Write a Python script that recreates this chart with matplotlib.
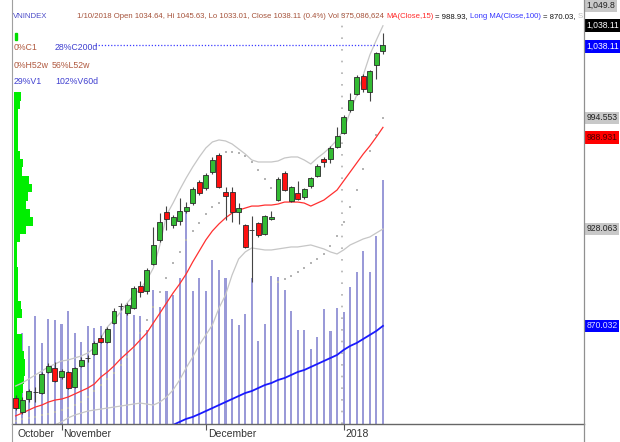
import matplotlib
matplotlib.use("Agg")
import matplotlib.pyplot as plt
import matplotlib.transforms as mtransforms
from matplotlib.patches import Rectangle
from matplotlib.lines import Line2D
import numpy as np

# ---- data (VNINDEX daily, 23 Oct 2017 .. 10 Jan 2018) ----
ticker = "VNINDEX"
last_date = "1/10/2018"
last_change = "0.4%"

open_ = [826.8, 818.4, 826.2, 830.2, 829.8, 842.4, 844.8, 839.4, 842.4, 833.4,
         846.0, 850.6, 853.2, 862.8, 860.4, 871.7, 881.7, 877.7, 880.7, 893.9,
         890.9, 907.1, 921.5, 938.2, 930.5, 932.9, 938.9, 943.6, 956.2, 952.6,
         962.2, 972.4, 950.2, 950.2, 938.2, 930.5, 927.3, 931.6, 925.1, 934.0,
         945.4, 961.6, 944.8, 949.6, 947.2, 953.8, 959.8, 970.0, 970.0, 977.2,
         985.6, 999.3, 1008.9, 1019.7, 1010.1, 1026.3, 1034.64]
high = [828.6, 827.4, 832.2, 833.4, 842.4, 847.8, 848.4, 844.2, 843.0, 845.4,
        851.4, 852.6, 861.0, 864.6, 869.3, 880.7, 883.7, 883.7, 893.9, 896.9,
        904.7, 929.2, 937.6, 941.8, 936.4, 946.6, 944.2, 953.2, 957.4, 961.6,
        971.2, 973.6, 953.2, 953.2, 943.6, 931.0, 935.8, 932.2, 936.4, 938.8,
        959.2, 962.8, 953.8, 956.8, 952.6, 959.2, 967.0, 971.2, 977.8, 989.2,
        996.4, 1009.5, 1020.3, 1020.9, 1023.3, 1034.1, 1045.63]
low = [819.6, 817.2, 824.4, 824.4, 829.2, 841.8, 836.4, 838.2, 832.2, 832.8,
       845.4, 848.4, 852.6, 859.8, 859.8, 871.1, 879.5, 876.5, 880.1, 887.3,
       889.1, 906.5, 920.3, 927.5, 928.7, 930.5, 937.6, 942.4, 948.4, 951.4,
       961.0, 952.6, 933.5, 932.2, 931.0, 916.7, 896.3, 923.3, 924.5, 933.5,
       944.8, 950.8, 944.2, 945.4, 946.0, 952.6, 959.2, 965.2, 967.6, 976.6,
       985.0, 998.1, 1008.3, 1010.1, 1004.7, 1017.9, 1033.01]
close = [820.8, 825.6, 831.0, 830.6, 841.2, 846.0, 837.0, 843.0, 832.8, 844.8,
         849.6, 851.0, 859.8, 860.4, 868.2, 878.9, 882.1, 882.5, 892.7, 890.3,
         903.5, 918.5, 932.2, 934.0, 935.2, 938.9, 941.2, 952.0, 949.6, 960.4,
         969.4, 953.2, 947.8, 938.2, 940.6, 917.3, 927.7, 924.5, 935.8, 935.2,
         958.0, 951.4, 953.2, 946.0, 952.0, 958.6, 965.8, 968.2, 976.6, 983.8,
         995.2, 1005.3, 1019.1, 1011.9, 1022.7, 1033.5, 1038.11]
# volume, millions of shares
volume = [129, 140, 120, 166, 124, 161, 160, 154, 174, 140,
          126, 151, 148, 151, 124, 171, 180, 172, 168, 166,
          144, 206, 180, 204, 198, 224, 329, 204, 224, 204,
          252, 237, 224, 161, 152, 169, 224, 128, 154, 227,
          226, 206, 174, 144, 144, 115, 134, 177, 143, 178,
          172, 211, 234, 266, 234, 289, 375.086624]

ma15 = [816.1, 817.8, 819.6, 821.4, 822.6, 824.4, 825.6, 826.2, 827.4, 829.2,
        831.0, 832.8, 835.2, 839.4, 842.4, 846.0, 850.2, 853.8, 857.4, 861.6,
        865.8, 871.8, 877.7, 883.7, 889.7, 895.1, 901.1, 908.3, 914.9, 921.5,
        926.9, 931.1, 934.7, 937.6, 939.4, 940.6, 941.8, 941.8, 942.4, 942.4,
        943.0, 944.2, 944.2, 944.2, 943.6, 941.8, 943.6, 945.4, 948.4, 951.4,
        956.8, 962.2, 967.6, 973.0, 977.8, 983.2, 988.931]
nan = float("nan")
ma100 = [nan] * 24 + [
    810.7, 812.5, 814.3, 815.5, 817.2, 819.0, 820.8, 822.6, 824.4, 826.2,
    828.0, 829.8, 831.0, 832.8, 834.6, 835.8, 837.6, 838.8, 840.6, 842.4,
    843.6, 845.4, 847.2, 849.0, 850.8, 852.6, 855.6, 858.0, 859.8, 862.2,
    864.6, 867.0, 870.032]
bb_upper = [834.0, 835.8, 838.2, 840.6, 843.0, 845.4, 847.2, 849.0, 849.6, 850.8,
            852.0, 853.8, 856.8, 862.8, 869.4, 873.6, 878.3, 883.7, 888.5, 892.1,
            897.5, 904.7, 918.5, 936.4, 943.6, 951.4, 958.6, 965.2, 971.2, 976.6,
            980.2, 981.4, 980.8, 979.0, 976.0, 973.0, 969.4, 968.2, 968.2, 968.2,
            968.8, 970.6, 971.2, 971.2, 969.4, 967.0, 970.6, 973.6, 977.2, 981.4,
            987.4, 998.1, 1008.3, 1020.3, 1032.3, 1041.3, 1049.8]
bb_lower = [798.7, 801.1, 803.5, 805.9, 807.7, 809.5, 810.7, 812.5, 814.9, 816.6,
            817.8, 819.0, 819.6, 820.2, 820.8, 821.4, 822.0, 822.6, 823.2, 823.8,
            823.2, 822.6, 824.4, 827.4, 831.6, 837.6, 844.8, 851.4, 858.6, 864.6,
            870.6, 880.7, 888.5, 900.5, 910.1, 914.3, 916.7, 916.1, 915.5, 915.5,
            916.1, 916.7, 917.3, 917.3, 917.9, 918.5, 917.3, 916.1, 914.3, 913.1,
            915.5, 918.5, 920.3, 922.1, 923.3, 925.7, 928.063]
sar = [813.1, 814.3, 814.9, 815.5, 816.6, 817.2, 818.4, 819.6, 820.8, 822.6,
       824.4, 827.4, 831.0, 834.6, 838.2, 841.8, 846.6, 851.4, 856.8, 865.8,
       873.6, 881.3, 890.3, 898.7, 907.7, 914.3, 921.5, 926.9, 931.7, 937.0,
       941.2, 943.6, 974.2, 974.2, 973.6, 971.8, 968.2, 963.4, 958.0, 952.6,
       896.3, 898.1, 899.9, 902.3, 904.7, 907.7, 910.1, 913.1, 917.9, 923.9,
       932.3, 941.2, 951.4, 964.0, 974.8, 984.4, 994.553]

month_labels = ["October", "November", "December", "2018"]
month_start = [0, 7, 29, 50]

# volume-by-price profile (bins of 5 points from 820)
profile_lo = list(range(820, 1010, 5))
profile_vol = [180, 240, 270, 300, 330, 330, 300, 240, 240, 90,
               90, 240, 210, 120, 120, 120, 120, 90, 90, 90,
               180, 360, 570, 480, 360, 420, 540, 450, 240, 270,
               180, 120, 120, 120, 120, 120, 180, 210]

# ---- figure ----
plt.rcParams['font.family'] = ['Liberation Sans Narrow', 'Liberation Sans', 'DejaVu Sans']
W, H = 620, 442
fig = plt.figure(figsize=(W / 100, H / 100), dpi=100)
fig.patch.set_facecolor('white')


def rect(l, t, r, b):
    return [l / W, 1 - b / H, (r - l) / W, (b - t) / H]


def fx(x):
    return x / W


def fy(y):
    return 1 - y / H


idx = np.arange(len(close))
xlim = (-0.55, 86.65)
ylim = (811.25, 1060.44)

# volume pane (behind)
axv = fig.add_axes(rect(12, 8, 584, 424))
axv.bar(idx, volume, width=0.32, color='#9a9ad8', linewidth=0)
axv.set_xlim(xlim)
axv.set_ylim(0, 639.5)
axv.axis('off')

# volume profile on the left
axp = fig.add_axes(rect(14, 8, 584, 424))
axp.barh(np.array(profile_lo) + 2.5, profile_vol, height=5, color='#00ee00', linewidth=0)
axp.set_xlim(0, 17100)
axp.set_ylim(ylim)
axp.axis('off')

# price pane
ax = fig.add_axes(rect(12, 8, 584, 424))
ax.set_facecolor('none')
ax.set_xlim(xlim)
ax.set_ylim(ylim)

ax.plot(idx, bb_upper, color='#c6c6c6', lw=0.9, zorder=1)
ax.plot(idx, bb_lower, color='#c6c6c6', lw=0.9, zorder=1)
ax.scatter(idx, sar, marker='s', s=2.5, color='#b4b4b4', linewidths=0, zorder=1)
ax.plot(idx, ma100, color='#1a1aff', lw=1.3, zorder=2)
ax.plot(idx, ma15, color='#ff3030', lw=0.9, zorder=2)

ax.vlines(idx, low, high, color='#444444', lw=0.8, zorder=3)
for i in idx:
    o, c = open_[i], close[i]
    col = '#33bb33' if c >= o else '#ff1010'
    ax.add_patch(Rectangle((i - 0.38, min(o, c)), 0.76, abs(c - o), facecolor=col,
                           edgecolor='#2a2a2a', lw=0.6, zorder=4))

ax.hlines(close[-1], 12.1, idx[-1], colors='#3c3cff', linestyles=(0, (1, 1.5)), lw=0.9, zorder=2)
ax.axvline(49.75, color='#b0b0b0', ls=(0, (1, 6)), lw=1.2, zorder=0)

for s in ['top', 'left', 'right']:
    ax.spines[s].set_visible(False)
ax.spines['bottom'].set_color('#666666')
ax.spines['bottom'].set_linewidth(1.0)
ax.set_yticks([])
ax.set_xticks(month_start[1:])
ax.set_xticklabels([])
ax.tick_params(axis='x', length=4.5, width=0.8, color='#555555', direction='out')
btrans = mtransforms.blended_transform_factory(ax.transData, ax.transAxes)
for lab, m in zip(month_labels, month_start):
    ax.annotate(lab, xy=(m, 0), xycoords=btrans, xytext=(1.5, -7.5), textcoords='offset points',
                ha='left', va='center', fontsize=7.5, color='#333333', annotation_clip=False)

# border lines
fig.add_artist(Line2D([fx(12), fx(12)], [0, 1], color='#a0a0a0', lw=0.8))
fig.add_artist(Line2D([fx(584), fx(584)], [0, 1], color='#909090', lw=0.9))

# right price labels
rtrans = mtransforms.blended_transform_factory(ax.transAxes, ax.transData)


def price_box(val, text, fc, tc, dy_px=0):
    ax.annotate(text, xy=(1, val), xycoords=rtrans, xytext=(1.8, -dy_px * 0.72),
                textcoords='offset points', ha='left', va='center', fontsize=6.2, color=tc,
                bbox=dict(boxstyle='square,pad=0.2', fc=fc, ec='none'), annotation_clip=False)


price_box(bb_upper[-1], f"{bb_upper[-1]:,.1f}", '#c8c8c8', '#222222', -20)
price_box(close[-1], f"{close[-1]:,.2f}", '#000000', '#ffffff', -20)
price_box(close[-1], f"{close[-1]:,.2f}", '#0000ff', '#ffffff', 1)
price_box(sar[-1], f"{sar[-1]:,.3f}", '#c8c8c8', '#222222')
price_box(ma15[-1], f"{ma15[-1]:,.3f}", '#ff0000', '#500000', 10)
price_box(bb_lower[-1], f"{bb_lower[-1]:,.3f}", '#c8c8c8', '#222222')
price_box(ma100[-1], f"{ma100[-1]:,.3f}", '#0000ff', '#e0e0ff')

# header line: segments placed one after another
hy = fy(17)
hfs = 5.6
fig.text(fx(13), hy, ticker, color='#4b4bc8', fontsize=hfs, va='center')
info = (f"{last_date} Open {open_[-1]:.2f}, Hi {high[-1]:.2f}, Lo {low[-1]:.2f}, "
        f"Close {close[-1]:.2f} ({last_change}) Vol {round(volume[-1] * 1e6):,}")
segments = [(info, '#a5523a'),
            ("MA(Close,15)", '#ff2a2a'),
            (f"= {ma15[-1]:.2f},", '#111111'),
            ("Long MA(Close,100)", '#3535ff'),
            (f"= {ma100[-1]:.2f},", '#111111'),
            ("S", '#c0c0c0')]
renderer = fig.canvas.get_renderer()
xpos = 77
for txt, col in segments:
    t = fig.text(fx(xpos), hy, txt, color=col, fontsize=hfs, va='center')
    xpos = t.get_window_extent(renderer).x1 + 2

# overlay stats
fig.add_artist(Rectangle((fx(15), fy(40)), 2 / W, 7 / H, color='#00dd00', transform=fig.transFigure))
brown, blue = '#b05a40', '#4040d0'
for txt, x, y, col in [("0%C1", 14, 47, brown), ("28%C200d", 55, 47, blue),
                       ("0%H52w", 14, 65, brown), ("56%L52w", 52, 65, brown),
                       ("29%V1", 14, 82, blue), ("102%V60d", 55, 82, blue)]:
    fig.text(fx(x), fy(y), txt, color=col, fontsize=6.3, va='center')

fig.savefig('out.png', dpi=100)
